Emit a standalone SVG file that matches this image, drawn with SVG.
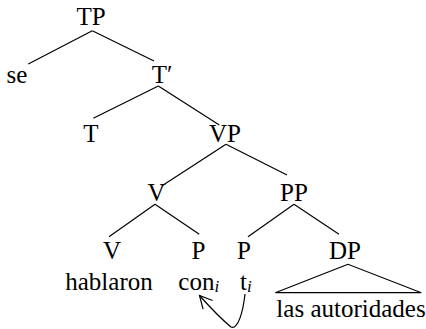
<svg xmlns="http://www.w3.org/2000/svg" width="426" height="329" viewBox="0 0 426 329">
<style>
text{font-family:"Liberation Serif","Times New Roman",serif;font-size:25px;fill:#000}
.m{text-anchor:middle}
.sub{font-style:italic;font-size:17px}
.e line,.e polygon,.e path{stroke:#000;stroke-width:1.2;fill:none}
</style>
<defs>
<marker id="ah" markerUnits="userSpaceOnUse" markerWidth="30" markerHeight="30" viewBox="-15 -15 30 30" refX="0" refY="0" orient="auto">
<path d="M-12.5,-6.4 L0,0 L-12.5,6.4" fill="none" stroke="#000" stroke-width="1.2"/>
</marker>
</defs>
<g class="e" id="connectors">
<line x1="92.3" y1="30.7" x2="28.3" y2="64"/>
<line x1="92.3" y1="30.7" x2="154" y2="61"/>
<line x1="158.3" y1="86" x2="93.3" y2="118.3"/>
<line x1="158.3" y1="86" x2="219.3" y2="125"/>
<line x1="226" y1="144.3" x2="161.7" y2="186"/>
<line x1="226" y1="144.3" x2="287" y2="175"/>
<line x1="155" y1="204.3" x2="109" y2="236.7"/>
<line x1="155" y1="204.3" x2="199.3" y2="234.3"/>
<line x1="294" y1="204.3" x2="248" y2="236.7"/>
<line x1="294" y1="204.3" x2="339" y2="234.3"/>
<polygon points="348,264.3 275.3,292.7 421.3,292.7"/>
<path d="M245,294 C243,312 238,330 231,327 C220,318 208,305 199.5,295.5" marker-end="url(#ah)"/>
</g>
<g id="n-TP"><text class="m" x="91" y="25">TP</text></g>
<g id="n-se"><text class="m" x="17" y="83">se</text></g>
<g id="n-Tbar"><text class="m" x="162" y="83">T′</text></g>
<g id="n-T"><text class="m" x="91" y="142">T</text></g>
<g id="n-VP"><text class="m" x="225" y="142">VP</text></g>
<g id="n-V1"><text class="m" x="156.5" y="201">V</text></g>
<g id="n-PP"><text class="m" x="294" y="201">PP</text></g>
<g id="n-V2"><text class="m" x="112" y="259">V</text><text class="m" x="109" y="290">hablaron</text></g>
<g id="n-P1"><text class="m" x="198.5" y="259">P</text><text x="178.3" y="290">con<tspan class="sub" dy="2">i</tspan></text></g>
<g id="n-P2"><text class="m" x="244" y="259">P</text><text x="240" y="290">t<tspan class="sub" dy="2">i</tspan></text></g>
<g id="n-DP"><text class="m" x="345" y="259">DP</text><text class="m" x="351" y="317">las autoridades</text></g>
</svg>
